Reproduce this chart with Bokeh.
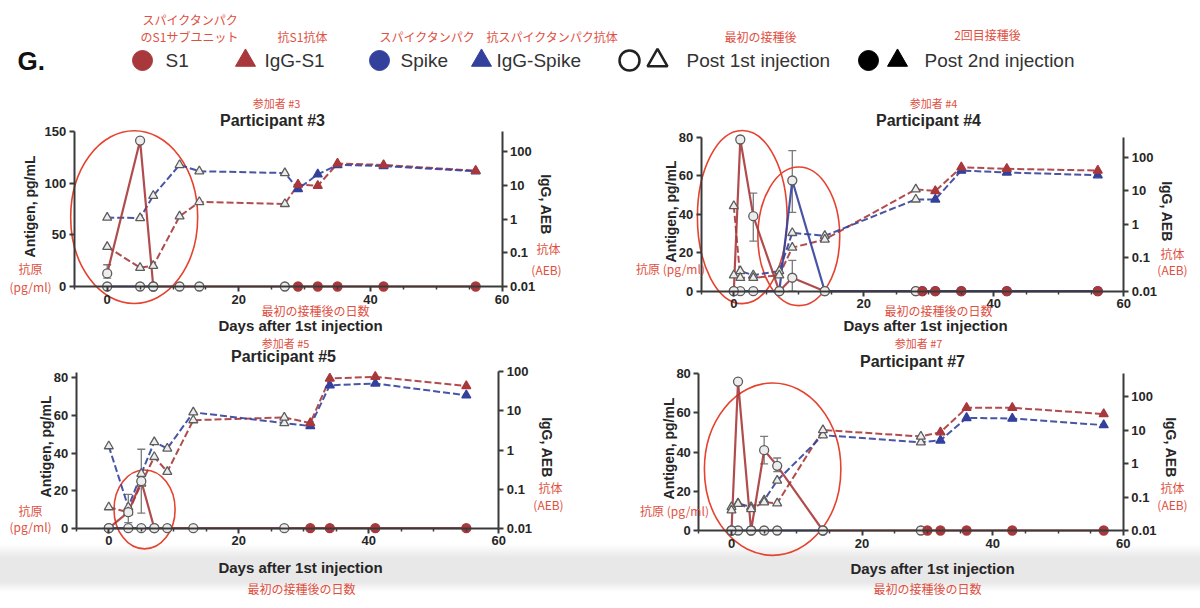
import math
from bokeh.plotting import figure
from bokeh.models import (Range1d, LinearAxis, LogAxis, LogScale, FixedTicker,
                          CustomJSTickFormatter, Label, ColumnDataSource,
                          Whisker, TeeHead)
from bokeh.layouts import column, row
from bokeh.embed import file_html
from bokeh.resources import INLINE

# ---------------- legend texts ----------------
legend_labels = ["S1", "IgG-S1", "Spike", "IgG-Spike", "Post 1st injection", "Post 2nd injection"]
legend_jp = ["スパイクタンパク", "のS1サブユニット", "抗S1抗体", "スパイクタンパク",
             "抗スパイクタンパク抗体", "最初の接種後", "2回目接種後"]

# ---------------- Participant #3 ----------------
p3_ag_days = [0, 5, 7, 11, 14, 27, 29, 32, 35, 42, 56]
p3_s1 = [12.6, 141, 0, 0, 0, 0, 0, 0, 0, 0, 0]
p3_spike_days = [0, 5, 7]
p3_spike = [0, 0, 0]
p3_igg_days = [0, 5, 7, 11, 14, 27, 29, 32, 35, 42, 56]
p3_igg_s1 = [0.15, 0.036, 0.041, 1.2, 3.2, 2.8, 10.5, 9.6, 44, 40, 27]
p3_igg_spike = [1.1, 1.07, 4.9, 40, 26, 23, 7.8, 21, 40, 37, 26]
p3_err_days = [0]
p3_err_lo = [8]
p3_err_hi = [21]

# ---------------- Participant #4 ----------------
p4_ag_days = [0, 1, 3, 7, 9, 14, 28, 29, 31, 35, 42, 56]
p4_s1 = [0, 78.8, 39, 0, 7, 0, 0, 0, 0, 0, 0, 0]
p4_spike_days = [0, 1, 3, 7, 9, 14, 28, 29, 31, 35, 42, 56]
p4_spike = [0, 0, 0, 0, 57.5, 0, 0, 0, 0, 0, 0, 0]
p4_igg_days = [0, 1, 3, 7, 9, 14, 28, 31, 35, 42, 56]
p4_igg_s1 = [3.5, 0.025, 0.025, 0.03, 0.2, 0.35, 11, 9.8, 50, 45, 40]
p4_igg_spike = [0.03, 0.04, 0.03, 0.04, 0.55, 0.45, 5.5, 5.5, 40, 35, 29]
p4_err_days = [3, 9, 9]
p4_err_lo = [26, 41, 0]
p4_err_hi = [51, 73, 16]

# ---------------- Participant #5 ----------------
p5_ag_days = [0, 3, 5, 7, 9, 13, 27, 31, 34, 41, 55]
p5_s1 = [0, 8.5, 25, 0, 0, 0, 0, 0, 0, 0, 0]
p5_spike_days = [0, 3, 5, 7]
p5_spike = [0, 0, 0, 0]
p5_igg_days = [0, 3, 5, 7, 9, 13, 27, 31, 34, 41, 55]
p5_igg_s1 = [0.035, 0.026, 0.14, 0.67, 0.28, 5.8, 6.8, 4.9, 67, 74, 43]
p5_igg_spike = [1.26, 0.035, 0.25, 1.6, 1.1, 9.2, 4.9, 4.1, 45, 50, 25]
p5_err_days = [3, 5]
p5_err_lo = [3, 8]
p5_err_hi = [18, 42]

# ---------------- Participant #7 ----------------
p7_ag_days = [0, 1, 3, 5, 7, 14, 29, 30, 32, 36, 43, 57]
p7_s1 = [0, 76, 0, 41, 33, 0, 0, 0, 0, 0, 0, 0]
p7_spike_days = [0, 1, 3, 5, 7, 14]
p7_spike = [0, 0, 0, 0, 0, 0]
p7_igg_days = [0, 1, 3, 5, 7, 14, 29, 32, 36, 43, 57]
p7_igg_s1 = [0.04, 0.063, 0.044, 0.07, 0.065, 10, 6.4, 8.6, 46, 46, 30]
p7_igg_spike = [0.05, 0.065, 0.05, 0.08, 0.31, 7, 4.3, 4.9, 23, 22, 14]
p7_err_days = [5, 7]
p7_err_lo = [34, 30]
p7_err_hi = [48, 37]

RED = "#a8383b"
BLUE = "#34419c"
OPEN_LINE = "#5c5c5c"
OPEN_FILL = "#ededed"
ANNO = "#e5432f"
JP = "#e0503f"
AX = "#3a3a3a"
TXT = "#262626"
FONT = "Liberation Sans"
JPFONT = "Noto Sans CJK JP"
XLAB = "Days after 1st injection"
XLAB_JP = "最初の接種後の日数"


def style_axis(ax):
    ax.axis_line_width = 2
    ax.axis_line_color = AX
    ax.major_tick_line_width = 2
    ax.major_tick_line_color = AX
    ax.major_tick_out = 5
    ax.major_tick_in = 0
    ax.minor_tick_line_color = AX
    ax.minor_tick_line_width = 1.5
    ax.minor_tick_out = 3
    ax.minor_tick_in = 0
    ax.major_label_text_font = FONT
    ax.major_label_text_font_style = "bold"
    ax.major_label_text_font_size = "13px"
    ax.major_label_text_color = TXT
    ax.major_label_standoff = 3


def markers(p, days, vals, color, marker, inj, rng="default"):
    fills = [color if d > inj else OPEN_FILL for d in days]
    lines = [color if d > inj else OPEN_LINE for d in days]
    src = ColumnDataSource(dict(x=days, y=vals, f=fills, l=lines))
    p.scatter("x", "y", source=src, marker=marker, size=9, fill_color="f",
              line_color="l", line_width=1.3, y_range_name=rng)


def panel(num, data, g, inj, ellipses, texts, transparent=False):
    (ag_days, s1, sp_days, sp, igg_days, igg_s1, igg_sp, e_days, e_lo, e_hi) = data
    W, H = g["W"], g["H"]
    x0, pxd = g["x0"], g["pxday"]
    yl0, ylk = g["yl0"], g["ylk"]
    yr0, yrd = g["yr0"], g["yrd"]
    p = figure(width=W, height=H,
               x_range=Range1d(-x0 / pxd, (W - x0) / pxd),
               y_range=Range1d((yl0 - H) / ylk, yl0 / ylk),
               x_axis_type=None, y_axis_type=None, title=None,
               output_backend="svg", toolbar_location=None, min_border=0)
    p.extra_y_ranges = {"igg": Range1d(10 ** (-2 + (yr0 - H) / yrd), 10 ** (-2 + yr0 / yrd))}
    p.extra_y_scales = {"igg": LogScale()}
    p.outline_line_color = None
    if transparent:
        p.background_fill_color = None
        p.border_fill_color = None
    else:
        p.background_fill_color = "white"
        p.border_fill_color = "white"

    xa = LinearAxis(fixed_location=0, bounds=(-5, 60),
                    ticker=FixedTicker(ticks=[0, 20, 40, 60],
                                       minor_ticks=[-5, 5, 10, 15, 25, 30, 35, 45, 50, 55]))
    style_axis(xa)
    p.add_layout(xa, "below")

    ya = LinearAxis(fixed_location=-5, bounds=(0, g["ymax"]),
                    ticker=FixedTicker(ticks=g["yticks"]))
    style_axis(ya)
    p.add_layout(ya, "left")

    ra = LogAxis(y_range_name="igg", fixed_location=60, bounds=(0.01, g["rmax"]),
                 ticker=FixedTicker(ticks=[0.01, 0.1, 1, 10, 100]),
                 formatter=CustomJSTickFormatter(
                     code="return tick >= 1 ? tick.toFixed(0) : String(tick);"))
    style_axis(ra)
    ra.minor_tick_line_color = None
    p.add_layout(ra, "right")

    # red circled annotations
    for (cx, cy, ew, eh) in ellipses:
        p.ellipse(x=[cx], y=[cy], width=[ew], height=[eh], fill_color=None,
                  line_color=ANNO, line_width=1.6)

    # lines
    p.line(igg_days, igg_s1, y_range_name="igg", line_color=RED, line_width=2,
           line_dash="7 3", line_alpha=0.9)
    p.line(igg_days, igg_sp, y_range_name="igg", line_color=BLUE, line_width=2,
           line_dash="7 3", line_alpha=0.9)
    p.line(ag_days, s1, line_color=RED, line_width=2.2, line_alpha=0.9)
    p.line(sp_days, sp, line_color=BLUE, line_width=2.2, line_alpha=0.9)

    esrc = ColumnDataSource(dict(x=e_days, lo=e_lo, hi=e_hi))
    p.add_layout(Whisker(source=esrc, base="x", lower="lo", upper="hi",
                         line_color="#7a7a7a", line_width=1.3,
                         upper_head=TeeHead(size=8, line_color="#7a7a7a", line_width=1.3),
                         lower_head=TeeHead(size=8, line_color="#7a7a7a", line_width=1.3)))

    markers(p, igg_days, igg_sp, BLUE, "triangle", inj, "igg")
    markers(p, igg_days, igg_s1, RED, "triangle", inj, "igg")
    markers(p, sp_days, sp, BLUE, "circle", inj)
    markers(p, ag_days, s1, RED, "circle", inj)

    # text annotations, positioned in panel pixels (fx, fy from top-left)
    for (fx, fy, kind, text) in texts:
        if kind == "jp":
            kw = dict(text_font=JPFONT, text_font_size="12px", text_color=JP)
        elif kind == "jpt":
            kw = dict(text_font=JPFONT, text_font_size="11px", text_color=JP)
        elif kind == "title":
            kw = dict(text_font=FONT, text_font_size="16px", text_font_style="bold",
                      text_color=TXT)
        elif kind == "xlab":
            kw = dict(text_font=FONT, text_font_size="15px", text_font_style="bold",
                      text_color=TXT)
        elif kind == "ylab":
            kw = dict(text_font=FONT, text_font_size="14px", text_font_style="bold",
                      text_color=TXT, angle=math.pi / 2)
        else:  # right axis label
            kw = dict(text_font=FONT, text_font_size="14px", text_font_style="bold",
                      text_color=TXT, angle=-math.pi / 2)
        p.add_layout(Label(x=(fx - x0) / pxd, y=(yl0 - fy) / ylk, text=text,
                           text_align="center", text_baseline="middle", **kw))
    return p


# panel geometry (pixels inside each panel)
g3 = dict(W=598, H=240, x0=106.7, pxday=6.58, yl0=190, ylk=1.035, yr0=190, yrd=33.75,
          ymax=150, yticks=[0, 50, 100, 150], rmax=400)
g4 = dict(W=602, H=240, x0=135.3, pxday=6.5, yl0=194.7, ylk=1.925, yr0=194.7, yrd=33.5,
          ymax=80, yticks=[0, 20, 40, 60, 80], rmax=400)
g5 = dict(W=598, H=272, x0=108.3, pxday=6.5, yl0=191.7, ylk=1.88, yr0=192, yrd=39.2,
          ymax=83, yticks=[0, 20, 40, 60, 80], rmax=100)
g7 = dict(W=602, H=272, x0=133, pxday=6.53, yl0=194, ylk=1.96, yr0=194, yrd=33.5,
          ymax=80, yticks=[0, 20, 40, 60, 80], rmax=470)

p3 = panel(3, (p3_ag_days, p3_s1, p3_spike_days, p3_spike, p3_igg_days, p3_igg_s1,
               p3_igg_spike, p3_err_days, p3_err_lo, p3_err_hi), g3, 28,
           [(4.1, 67, 19.3, 167)],
           [(276, 6, "jpt", "参加者 #3"), (272, 24, "title", "Participant #3"),
            (29, 110, "ylab", "Antigen, pg/mL"), (30, 172, "jp", "抗原"),
            (30, 190, "jp", "(pg/ml)"), (545, 108, "rlab", "IgG, AEB"),
            (548, 152, "jp", "抗体"), (546, 173, "jp", "(AEB)"),
            (315, 214, "jp", XLAB_JP), (300, 229, "xlab", XLAB)])

p4 = panel(4, (p4_ag_days, p4_s1, p4_spike_days, p4_spike, p4_igg_days, p4_igg_s1,
               p4_igg_spike, p4_err_days, p4_err_lo, p4_err_hi), g4, 28.5,
           [(1.3, 38.5, 13.8, 90), (10, 28.5, 12.6, 72)],
           [(335, 6, "jpt", "参加者 #4"), (330, 24, "title", "Participant #4"),
            (72, 115, "ylab", "Antigen, pg/mL"), (72, 172, "jp", "抗原 (pg/ml)"),
            (568, 115, "rlab", "IgG, AEB"), (574, 157, "jp", "抗体"),
            (574, 173, "jp", "(AEB)"),
            (340, 214, "jp", XLAB_JP), (327, 229, "xlab", XLAB)])

p5 = panel(5, (p5_ag_days, p5_s1, p5_spike_days, p5_spike, p5_igg_days, p5_igg_s1,
               p5_igg_spike, p5_err_days, p5_err_lo, p5_err_hi), g5, 30,
           [(5.5, 10, 9.4, 42)],
           [(285, 6, "jpt", "参加者 #5"), (283, 20, "title", "Participant #5"),
            (45, 110, "ylab", "Antigen, pg/mL"), (30, 174, "jp", "抗原"),
            (30, 190, "jp", "(pg/ml)"), (546, 111, "rlab", "IgG, AEB"),
            (550, 151, "jp", "抗体"), (548, 168, "jp", "(AEB)"),
            (300, 231, "xlab", XLAB), (301, 252, "jp", XLAB_JP)], True)

p7 = panel(7, (p7_ag_days, p7_s1, p7_spike_days, p7_spike, p7_igg_days, p7_igg_s1,
               p7_igg_spike, p7_err_days, p7_err_lo, p7_err_hi), g7, 29.5,
           [(6.3, 31.3, 20.9, 88)],
           [(320, 6, "jpt", "参加者 #7"), (314, 25, "title", "Participant #7"),
            (70, 112, "ylab", "Antigen, pg/mL"), (76, 174, "jp", "抗原 (pg/ml)"),
            (572, 111, "rlab", "IgG, AEB"), (574, 151, "jp", "抗体"),
            (574, 168, "jp", "(AEB)"),
            (334, 232, "xlab", XLAB), (329, 252, "jp", XLAB_JP)], True)

# ---------------- header legend ----------------
hd = figure(width=1200, height=96, x_range=Range1d(0, 1200), y_range=Range1d(96, 0),
            output_backend="svg", toolbar_location=None, min_border=0)
hd.axis.visible = False
hd.grid.visible = False
hd.outline_line_color = None

KY = 60
key_x = [142, 245, 379, 481, 629, 657, 868, 897]
key_marker = ["circle", "triangle", "circle", "triangle", "circle", "triangle", "circle", "triangle"]
key_fill = [RED, RED, BLUE, BLUE, "white", "white", "black", "black"]
key_line = [RED, RED, BLUE, BLUE, "#222222", "#222222", "black", "black"]
hd.scatter(x=key_x, y=[KY] * 8, marker=key_marker, size=20, fill_color=key_fill,
           line_color=key_line, line_width=[1, 1, 1, 1, 2.5, 2.5, 1, 1])

hd.add_layout(Label(x=17, y=KY, text="G.", text_font=FONT, text_font_style="bold",
                    text_font_size="26px", text_color="#111111", text_baseline="middle"))
for tx, t in zip([165, 264, 400, 496, 686, 924], legend_labels):
    hd.add_layout(Label(x=tx, y=KY, text=t, text_font=FONT, text_font_size="19px",
                        text_color="#333333", text_baseline="middle"))
for (cx, cy), t in zip([(190, 19), (189, 36), (302, 36), (427, 36), (552, 36),
                        (760, 36), (987, 34)], legend_jp):
    hd.add_layout(Label(x=cx, y=cy, text=t, text_font=JPFONT, text_font_size="12px",
                        text_color=JP, text_align="center", text_baseline="middle"))

# soft grey shading across the bottom of the page (as in the source screenshot)
row2 = row(p5, p7, styles={"background": "linear-gradient(to bottom, #ffffff 0px, "
                                         "#ffffff 208px, #e8e8e8 222px, #e8e8e8 246px, "
                                         "#ffffff 256px, #ffffff 272px)"})
layout = column(hd, row(p3, p4), row2)
open("out.html", "w").write(file_html(layout, INLINE))
